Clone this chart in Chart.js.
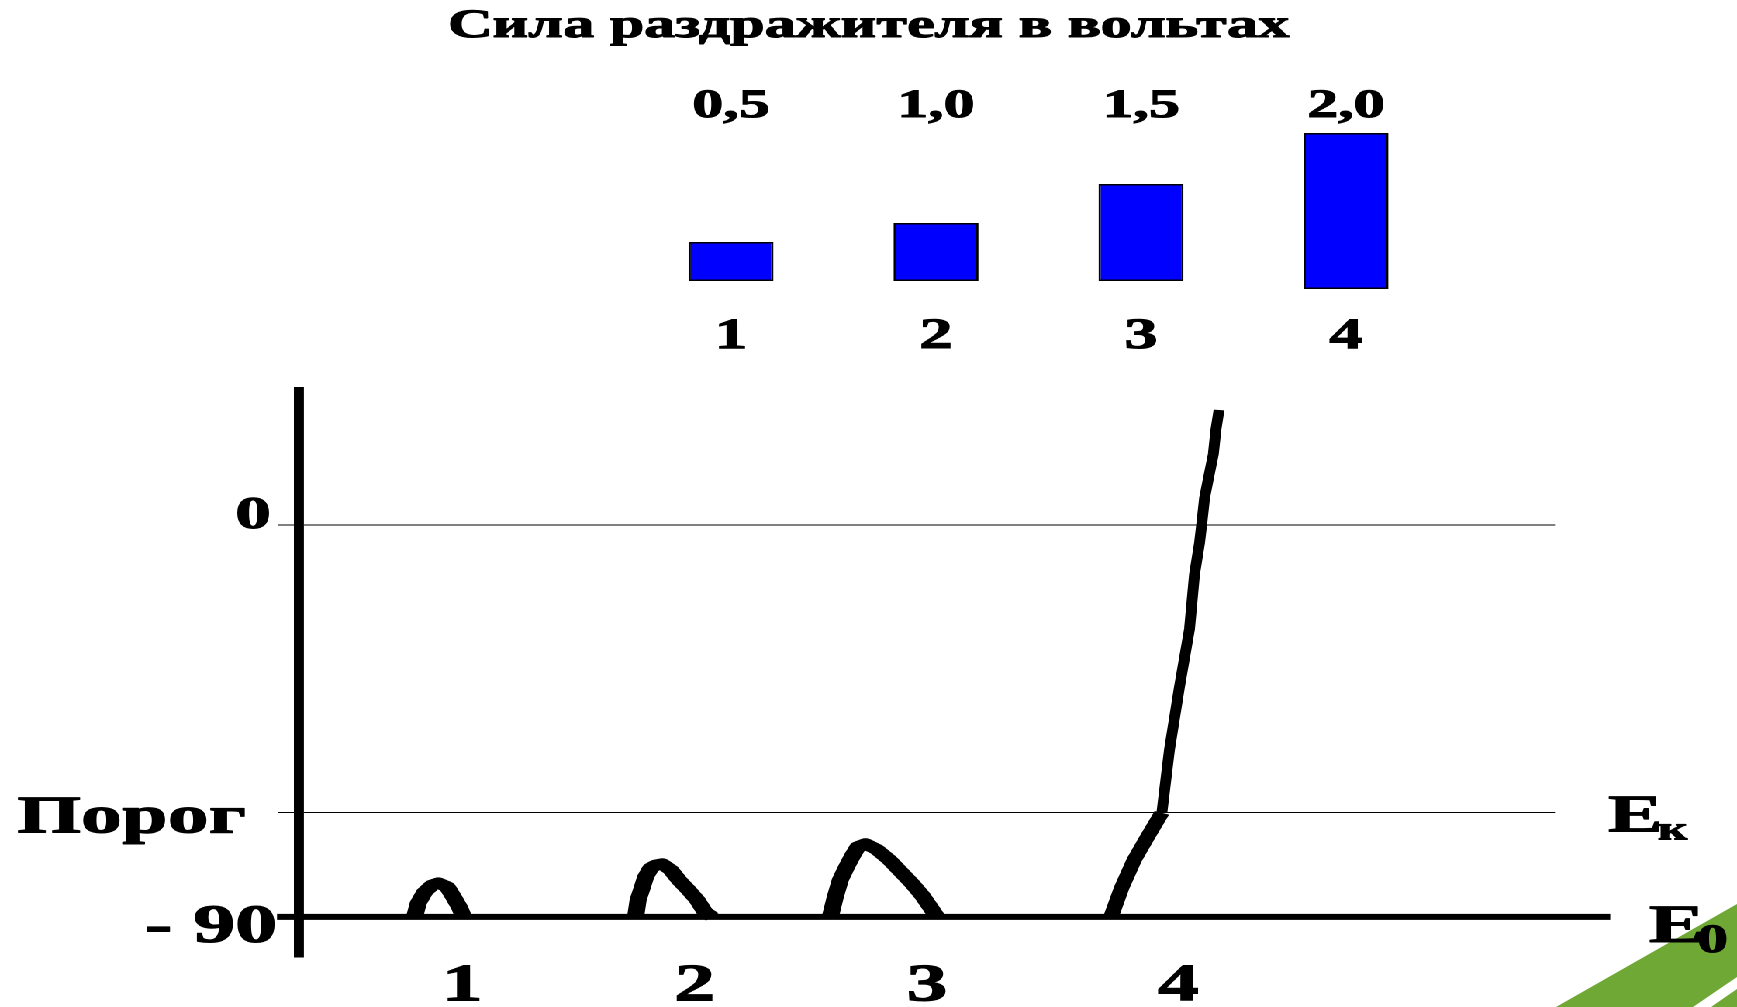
<!DOCTYPE html>
<html><head><meta charset="utf-8">
<script src="https://cdn.jsdelivr.net/npm/chart.js@4.4.1/dist/chart.umd.min.js"></script>
<style>
html,body{margin:0;padding:0;background:#fff;overflow:hidden;width:1737px;height:1007px;}
#deco{position:absolute;left:0;top:0;}
#stage{position:absolute;left:0;top:0;width:1120px;height:1007px;transform:scaleX(1.550893);transform-origin:0 0;}
#stage canvas{position:absolute;left:0;}
</style></head><body>
<svg id="deco" width="1737" height="1007" xmlns="http://www.w3.org/2000/svg">
  <polygon points="1556,1007 1737,904 1737,1007" fill="#70A836"/>
  <polygon points="1693,1007 1737,977 1737,989 1711,1007" fill="#ffffff"/>
</svg>
<div id="stage">
  <canvas id="topChart" width="1120" height="370" style="top:0;width:1120px;height:370px"></canvas>
  <canvas id="bottomChart" width="1120" height="647" style="top:360px;width:1120px;height:647px"></canvas>
</div>
<script>
// ---------- data: upper bar diagram ----------
const titleText = 'Сила раздражителя в вольтах';
const stimulusLabels = ['1', '2', '3', '4'];
const voltLabels = ['0,5', '1,0', '1,5', '2,0'];
const barLow = [0, 0, 0, -0.8];
const barHigh = [3.9, 5.8, 9.7, 14.8];

// ---------- data: lower membrane potential diagram (mV vs time units) ----------
const restingMv = -90;
const thresholdMv = -66;
const yTickValues = [0, -66, -90];
const yTickLabels = ['0', 'Порог', '- 90'];
const levelValues = [-66, -90];
const levelNames = ['Е', 'Е'];
const levelSubs = ['к', '0'];
const xTickValues = [13, 31.5, 50, 70];
const xTickLabels = ['1', '2', '3', '4'];
const baselineT = [-1.75, 104.4];
const spike1T = [9.2, 9.5, 10.0, 10.6, 11.1, 11.8, 12.3, 12.8, 13.1];
const spike1V = [-90, -86.8, -84.3, -82.7, -82.2, -83.1, -85.4, -87.9, -90];
const spike2T = [26.8, 27.0, 27.3, 27.6, 28.0, 28.4, 28.9, 29.6, 30.3, 31.0, 31.7, 32.3, 32.9];
const spike2V = [-90, -86.1, -83.5, -80.8, -78.8, -78.1, -77.8, -79.2, -81.7, -83.8, -86.1, -88.8, -90];
const spike3T = [42.3, 42.7, 43.1, 43.6, 44.1, 44.5, 45.1, 46.0, 47.0, 47.9, 48.8, 49.6, 50.2, 50.8];
const spike3V = [-90, -85.4, -81.5, -78.5, -75.8, -73.9, -73.2, -74.5, -76.9, -79.6, -82.3, -85.0, -87.5, -90];
const spike4T = [64.65, 65.5, 66.5, 67.5, 68.7, 69.3, 70.1, 70.9, 71.3, 71.7, 71.9, 72.1, 72.4, 72.8, 73.0, 73.25];
const spike4V = [-90, -83.3, -76.9, -71.9, -66.1, -51.7, -37.2, -23.9, -11.3, -4.1, 0.9, 6.2, 10.6, 16.3, 21.8, 26.4];

// ---------- styling ----------
const serif = '"Liberation Serif", "Times New Roman", serif';
Chart.defaults.font.family = serif;
Chart.defaults.font.weight = 'bold';
Chart.defaults.color = '#000';
const heavy = { textStrokeColor: '#000', textStrokeWidth: 1 };

// thickens the title glyphs (same text, outline only) to match the heavy original lettering
const heavyTitle = {
  id: 'heavyTitle',
  afterDraw(chart) {
    const tb = chart.titleBlock;
    if (!tb) return;
    const o = tb.options;
    const ctx = chart.ctx;
    ctx.save();
    ctx.font = `bold ${o.font.size}px ${serif}`;
    ctx.textAlign = 'center';
    ctx.textBaseline = 'middle';
    ctx.lineWidth = 1;
    ctx.strokeStyle = '#000';
    ctx.lineJoin = 'round';
    ctx.strokeText(o.text, (tb.left + tb.right) / 2, tb.top + o.padding.top + o.font.size * o.font.lineHeight / 2);
    ctx.restore();
  }
};

// ---------- upper chart ----------
new Chart(document.getElementById('topChart'), {
  type: 'bar',
  data: {
    labels: stimulusLabels,
    datasets: [{
      data: barLow.map((lo, i) => [lo, barHigh[i]]),
      backgroundColor: '#0000FF',
      borderColor: '#000000',
      borderWidth: 1.5,
      borderSkipped: false,
      barPercentage: 0.4146,
      categoryPercentage: 1
    }]
  },
  options: {
    responsive: false, animation: false, devicePixelRatio: 2,
    events: [],
    layout: { padding: 0 },
    plugins: {
      legend: { display: false },
      tooltip: { enabled: false },
      title: {
        display: true, text: titleText, color: '#000',
        font: { family: serif, size: 40, weight: 'bold', lineHeight: 1.125 },
        padding: { top: 4, bottom: 1 }
      }
    },
    scales: {
      x: {
        type: 'category', position: 'bottom', offset: true,
        grid: { display: false, drawTicks: false }, border: { display: false },
        ticks: Object.assign({ font: { size: 43, weight: 'bold', lineHeight: 1.2 }, padding: 11, color: '#000', maxRotation: 0, autoSkip: false }, heavy),
        afterFit: s => { s.height = 70; }
      },
      xTop: {
        type: 'category', position: 'top', offset: true,
        grid: { display: false, drawTicks: false }, border: { display: false },
        ticks: Object.assign({ font: { size: 40, weight: 'bold', lineHeight: 1.05 }, padding: 2.5, color: '#000', maxRotation: 0, autoSkip: false,
                 callback: (v, i) => voltLabels[i] }, heavy),
        afterFit: s => { s.height = 80; }
      },
      y: {
        type: 'linear', min: -1.9, max: 15.1,
        grid: { display: false, drawTicks: false }, border: { display: false },
        ticks: { display: false },
        afterFit: s => { s.width = 405.25; }
      },
      yR: {
        type: 'linear', position: 'right',
        grid: { display: false, drawTicks: false }, border: { display: false },
        ticks: { display: false },
        afterFit: s => { s.width = 186; }
      }
    }
  },
  plugins: [heavyTitle]
});

// ---------- lower chart ----------
const leftStyle = [
  { size: 46, align: 'right', dx: -18.05, dy: 3 },
  { size: 53, align: 'left', dx: -181.83, dy: 20 },
  { size: 54, align: 'right', dx: -14.18, dy: 25 }
];
const rightStyle = [
  { size: 53, dx: 34.17, dy: 19, subSize: 33, subDx: 66.41, subDy: 27 },
  { size: 54, dx: 60.62, dy: 25, subSize: 40, subDx: 91.57, subDy: 35 }
];
const drawHeavy = (ctx, txt, x, y) => { ctx.fillText(txt, x, y); ctx.strokeText(txt, x, y); };
const sideLabels = {
  id: 'sideLabels',
  afterDraw(chart) {
    const { ctx, chartArea: a, scales: { y } } = chart;
    ctx.save();
    ctx.fillStyle = '#000';
    ctx.strokeStyle = '#000';
    ctx.lineWidth = 1;
    ctx.lineJoin = 'round';
    ctx.textBaseline = 'alphabetic';
    yTickLabels.forEach((txt, i) => {
      const st = leftStyle[i];
      ctx.font = `bold ${st.size}px ${serif}`;
      ctx.textAlign = st.align;
      drawHeavy(ctx, txt, a.left + st.dx, y.getPixelForValue(yTickValues[i]) + st.dy);
    });
    levelNames.forEach((nm, i) => {
      const st = rightStyle[i];
      const py = y.getPixelForValue(levelValues[i]);
      ctx.textAlign = 'left';
      ctx.font = `bold ${st.size}px ${serif}`;
      drawHeavy(ctx, nm, a.right + st.dx, py + st.dy);
      ctx.font = `bold ${st.subSize}px ${serif}`;
      drawHeavy(ctx, levelSubs[i], a.right + st.subDx, py + st.subDy);
    });
    ctx.restore();
  }
};

const lineDs = (t, v, w, extra) => Object.assign({
  data: t.map((tt, i) => ({ x: tt, y: v[i] })),
  borderColor: '#000', borderWidth: w, pointRadius: 0, tension: 0,
  borderJoinStyle: 'round', borderCapStyle: 'butt', fill: false
}, extra || {});

new Chart(document.getElementById('bottomChart'), {
  type: 'line',
  data: {
    datasets: [
      lineDs(baselineT, baselineT.map(() => restingMv), 6, { clip: false }),
      lineDs(spike1T, spike1V, 11),
      lineDs(spike2T, spike2V, 11),
      lineDs(spike3T, spike3V, 11),
      lineDs(spike4T, spike4V, 10, { segment: { borderWidth: c => (c.p1.parsed.y <= thresholdMv ? 10 : 7) } })
    ]
  },
  options: {
    responsive: false, animation: false, devicePixelRatio: 2,
    events: [],
    layout: { padding: { top: 30, right: 117.35, left: 0, bottom: 0 } },
    plugins: { legend: { display: false }, tooltip: { enabled: false } },
    scales: {
      x: {
        type: 'linear', min: 0, max: 100,
        grid: { display: false, drawTicks: false }, border: { display: false },
        ticks: Object.assign({ font: { size: 53, weight: 'bold', lineHeight: 1 }, padding: 3.5, color: '#000', maxRotation: 0, autoSkip: false,
                 callback: (v, i) => xTickLabels[i] }, heavy),
        afterBuildTicks: s => { s.ticks = xTickValues.map(v => ({ value: v })); },
        afterFit: s => { s.height = 50; }
      },
      y: {
        type: 'linear', min: -99.2, max: 31,
        grid: { color: '#000', lineWidth: c => (c.tick && c.tick.value === restingMv ? 0 : 1), drawTicks: true, tickLength: 13.54 },
        border: { display: true, color: '#000', width: 6.45 },
        ticks: { display: false },
        afterBuildTicks: s => { s.ticks = yTickValues.map(v => ({ value: v })); },
        afterFit: s => { s.width = 192.79; }
      }
    }
  },
  plugins: [sideLabels]
});
</script>
</body></html>
